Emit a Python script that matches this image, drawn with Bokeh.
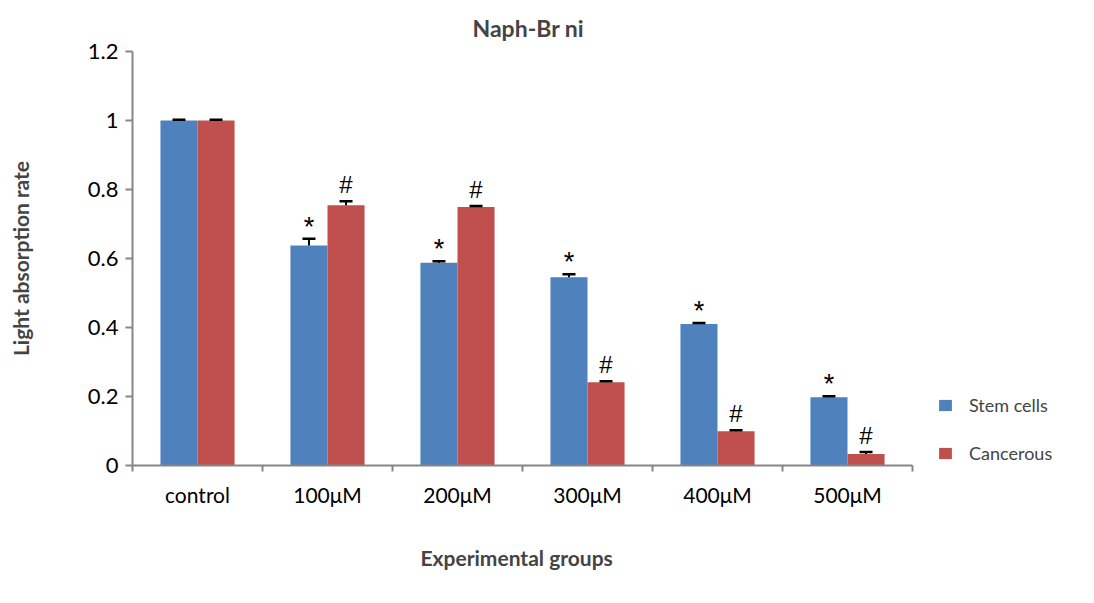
from bokeh.plotting import figure
from bokeh.models import FixedTicker, Range1d, Legend, LegendItem, Title
from bokeh.embed import file_html
from bokeh.resources import INLINE
from bokeh.core.properties import value

categories = ["control", "100\u03bcM", "200\u03bcM", "300\u03bcM", "400\u03bcM", "500\u03bcM"]
stem = [1.0, 0.638, 0.588, 0.546, 0.410, 0.198]
stem_err = [0.002, 0.019, 0.004, 0.008, 0.003, 0.003]
cancer = [1.0, 0.754, 0.749, 0.2415, 0.099, 0.033]
cancer_err = [0.002, 0.012, 0.003, 0.003, 0.003, 0.006]
stem_marks = ["", "*", "*", "*", "*", "*"]
cancer_marks = ["", "#", "#", "#", "#", "#"]
y_ticks = [0, 0.2, 0.4, 0.6, 0.8, 1.0, 1.2]
y_tick_labels = ["0", "0.2", "0.4", "0.6", "0.8", "1", "1.2"]

BLUE = "#4F81BD"
RED = "#C0504D"
GREY = "#868686"
FONT = "Lato"

W, H = 1094, 603
LEFT, RIGHT, TOP, BOTTOM = 132, 10, 51, 138
CAT_PX = 130  # pixel width of one category slot

bw = 0.285
off = 0.1425
n = len(categories)
centers = [i + 0.5 for i in range(n)]
x_end = (W - LEFT - RIGHT) / CAT_PX  # extra room on the right holds the legend

p = figure(width=W, height=H, output_backend="svg", toolbar_location=None,
           x_range=Range1d(0, x_end), y_range=Range1d(0, 1.2),
           min_border_left=LEFT, min_border_right=RIGHT, min_border_top=TOP, min_border_bottom=BOTTOM)
p.outline_line_color = None
p.xgrid.visible = False
p.ygrid.visible = False

p.title.text = "Naph-Br ni"
p.title.align = "left"
p.title.text_font = FONT
p.title.text_font_size = "23px"
p.title.text_font_style = "bold"
p.title.offset = 340
p.title.standoff = 19

sx = [c - off for c in centers]
cx = [c + off for c in centers]
rs = p.vbar(x=sx, top=stem, width=bw, fill_color=BLUE, line_color=None)
rc = p.vbar(x=cx, top=cancer, width=bw, fill_color=RED, line_color=None)

# error bars (upper only)
cap = 0.05
s_up = [v + e for v, e in zip(stem, stem_err)]
c_up = [v + e for v, e in zip(cancer, cancer_err)]
p.segment(x0=sx, y0=stem, x1=sx, y1=s_up, line_color="black", line_width=2)
p.segment(x0=[x - cap for x in sx], y0=s_up, x1=[x + cap for x in sx], y1=s_up, line_color="black", line_width=2.5)
p.segment(x0=cx, y0=cancer, x1=cx, y1=c_up, line_color="black", line_width=2)
p.segment(x0=[x - cap for x in cx], y0=c_up, x1=[x + cap for x in cx], y1=c_up, line_color="black", line_width=2.5)

p.text(x=sx, y=s_up, text=stem_marks, text_align="center", text_baseline="bottom",
       y_offset=3, text_font=value("Liberation Sans"), text_font_size="27px", text_color="black")
p.text(x=cx, y=c_up, text=cancer_marks, text_align="center", text_baseline="bottom",
       y_offset=-3, text_font=value("Liberation Sans"), text_font_size="24px", text_color="black")

# axes
xa = p.xaxis[0]
xa.bounds = (0, n)
xa.ticker = FixedTicker(ticks=centers, minor_ticks=list(range(n + 1)))
xa.major_label_overrides = {c: lab for c, lab in zip(centers, categories)}
xa.major_tick_out = 0
xa.major_tick_in = 0
xa.minor_tick_out = 6
xa.minor_tick_in = 0
xa.axis_line_color = GREY
xa.axis_line_width = 2
xa.minor_tick_line_color = GREY
xa.minor_tick_line_width = 2
xa.major_label_text_font = FONT
xa.major_label_text_font_size = "21px"
xa.major_label_text_color = "black"
xa.major_label_standoff = 10

xtitle = Title(text="Experimental groups", align="left", offset=288, standoff=67,
               text_font=FONT, text_font_size="21px", text_font_style="bold")
p.add_layout(xtitle, "below")

ya = p.yaxis[0]
ya.ticker = FixedTicker(ticks=y_ticks, minor_ticks=[])
ya.major_label_overrides = {t: lab for t, lab in zip(y_ticks, y_tick_labels)}
ya.major_tick_out = 7
ya.major_tick_in = 0
ya.major_tick_line_color = GREY
ya.major_tick_line_width = 2
ya.axis_line_color = GREY
ya.axis_line_width = 2
ya.major_label_text_font = FONT
ya.major_label_text_font_size = "22px"
ya.major_label_text_color = "black"
ya.major_label_standoff = 7
ya.axis_label = "Light absorption rate"
ya.axis_label_text_font = FONT
ya.axis_label_text_font_size = "21px"
ya.axis_label_text_font_style = "bold"
ya.axis_label_standoff = 52

legend = Legend(items=[LegendItem(label="Stem cells", renderers=[rs]),
                       LegendItem(label="Cancerous", renderers=[rc])],
                location=(805, 1), orientation="vertical",
                padding=0, margin=0, spacing=26,
                glyph_width=16, glyph_height=14, label_height=14,
                label_standoff=16, label_text_font=FONT, label_text_font_size="18px",
                border_line_color=None, background_fill_alpha=0)
p.add_layout(legend, "center")

open("out.html", "w").write(file_html(p, INLINE))
